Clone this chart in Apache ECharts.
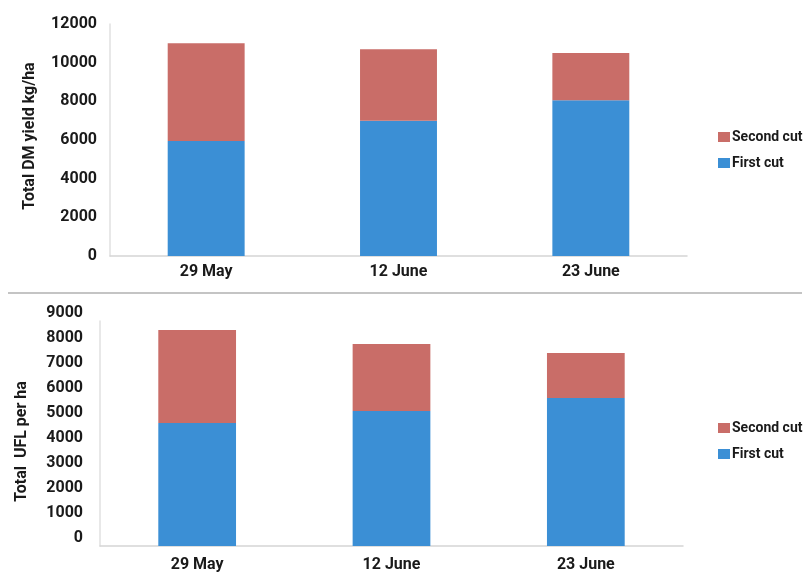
<!DOCTYPE html>
<html>
<head>
<meta charset="utf-8">
<script src="https://cdn.jsdelivr.net/npm/echarts@6/dist/echarts.min.js"></script>
<style>html,body{margin:0;padding:0;background:#fff}#c{width:808px;height:574px}</style>
</head>
<body>
<div id="c"></div>
<script>
var categories = ['29 May', '12 June', '23 June'];
var dmFirstCut = [5950, 7000, 8050];
var dmSecondCut = [5050, 3700, 2450];
var uflFirstCut = [4920, 5400, 5920];
var uflSecondCut = [3720, 2680, 1800];

var FONT = 'Roboto';
var W = 'bold';
var TXT = '#1a1a1a';
var RED = '#c96d68';
var BLUE = '#3b8fd5';
function plain(v) { return String(v); }

var chart = echarts.init(document.getElementById('c'));
chart.setOption({
  animation: false,
  textStyle: {fontFamily: FONT},
  graphic: [{
    type: 'line', shape: {x1: 8, y1: 293, x2: 802, y2: 293},
    style: {stroke: '#c4c4c4', lineWidth: 2}
  }],
  legend: [{
    data: ['Second cut', 'First cut'], orient: 'vertical', left: 713, top: 125,
    itemWidth: 12, itemHeight: 10, itemGap: 12, icon: 'rect',
    textStyle: {fontFamily: FONT, fontWeight: W, fontSize: 14, color: TXT, padding: [0, 0, 0, -3]}
  }, {
    data: ['Second cut ', 'First cut '], orient: 'vertical', left: 713, top: 416,
    itemWidth: 12, itemHeight: 10, itemGap: 12, icon: 'rect',
    textStyle: {fontFamily: FONT, fontWeight: W, fontSize: 14, color: TXT, padding: [0, 0, 0, -3]}
  }],
  grid: [
    {left: 110, right: 121, top: 24, height: 232},
    {left: 100, right: 125, top: 321, height: 225}
  ],
  xAxis: [{
    type: 'category', data: categories, gridIndex: 0,
    axisLine: {lineStyle: {color: '#d5d5d5', width: 1.5}}, axisTick: {show: false},
    axisLabel: {fontFamily: FONT, fontWeight: W, fontSize: 16, color: TXT, margin: 8}
  }, {
    type: 'category', data: categories, gridIndex: 1,
    axisLine: {lineStyle: {color: '#d5d5d5', width: 1.5}}, axisTick: {show: false},
    axisLabel: {fontFamily: FONT, fontWeight: W, fontSize: 16, color: TXT, margin: 11}
  }],
  yAxis: [{
    type: 'value', gridIndex: 0, min: 0, max: 12000, interval: 2000,
    name: 'Total DM yield kg/ha', nameLocation: 'middle', nameGap: 72,
    nameTextStyle: {fontFamily: FONT, fontWeight: W, fontSize: 16, color: TXT, padding: [0, 0, 0, 8]},
    axisLine: {show: true, lineStyle: {color: '#e0e0e0', width: 1.5}}, axisTick: {show: false},
    splitLine: {show: false},
    axisLabel: {fontFamily: FONT, fontWeight: W, fontSize: 16, color: TXT, margin: 13, formatter: plain}
  }, {
    type: 'value', gridIndex: 1, min: 0, max: 9000, interval: 1000,
    name: 'Total  UFL per ha', nameLocation: 'middle', nameGap: 70,
    nameTextStyle: {fontFamily: FONT, fontWeight: W, fontSize: 16, color: TXT, padding: [0, 16, 0, 0]},
    axisLine: {show: true, lineStyle: {color: '#e0e0e0', width: 1.5}}, axisTick: {show: false},
    splitLine: {show: false},
    axisLabel: {fontFamily: FONT, fontWeight: W, fontSize: 16, color: TXT, margin: 17, verticalAlign: 'bottom', formatter: plain}
  }],
  series: [
    {name: 'First cut', type: 'bar', stack: 'dm', xAxisIndex: 0, yAxisIndex: 0, barWidth: '40%',
     data: dmFirstCut, itemStyle: {color: BLUE}},
    {name: 'Second cut', type: 'bar', stack: 'dm', xAxisIndex: 0, yAxisIndex: 0, barWidth: '40%',
     data: dmSecondCut, itemStyle: {color: RED}},
    {name: 'First cut ', type: 'bar', stack: 'ufl', xAxisIndex: 1, yAxisIndex: 1, barWidth: '40%',
     data: uflFirstCut, itemStyle: {color: BLUE}},
    {name: 'Second cut ', type: 'bar', stack: 'ufl', xAxisIndex: 1, yAxisIndex: 1, barWidth: '40%',
     data: uflSecondCut, itemStyle: {color: RED}}
  ]
});
</script>
</body>
</html>
